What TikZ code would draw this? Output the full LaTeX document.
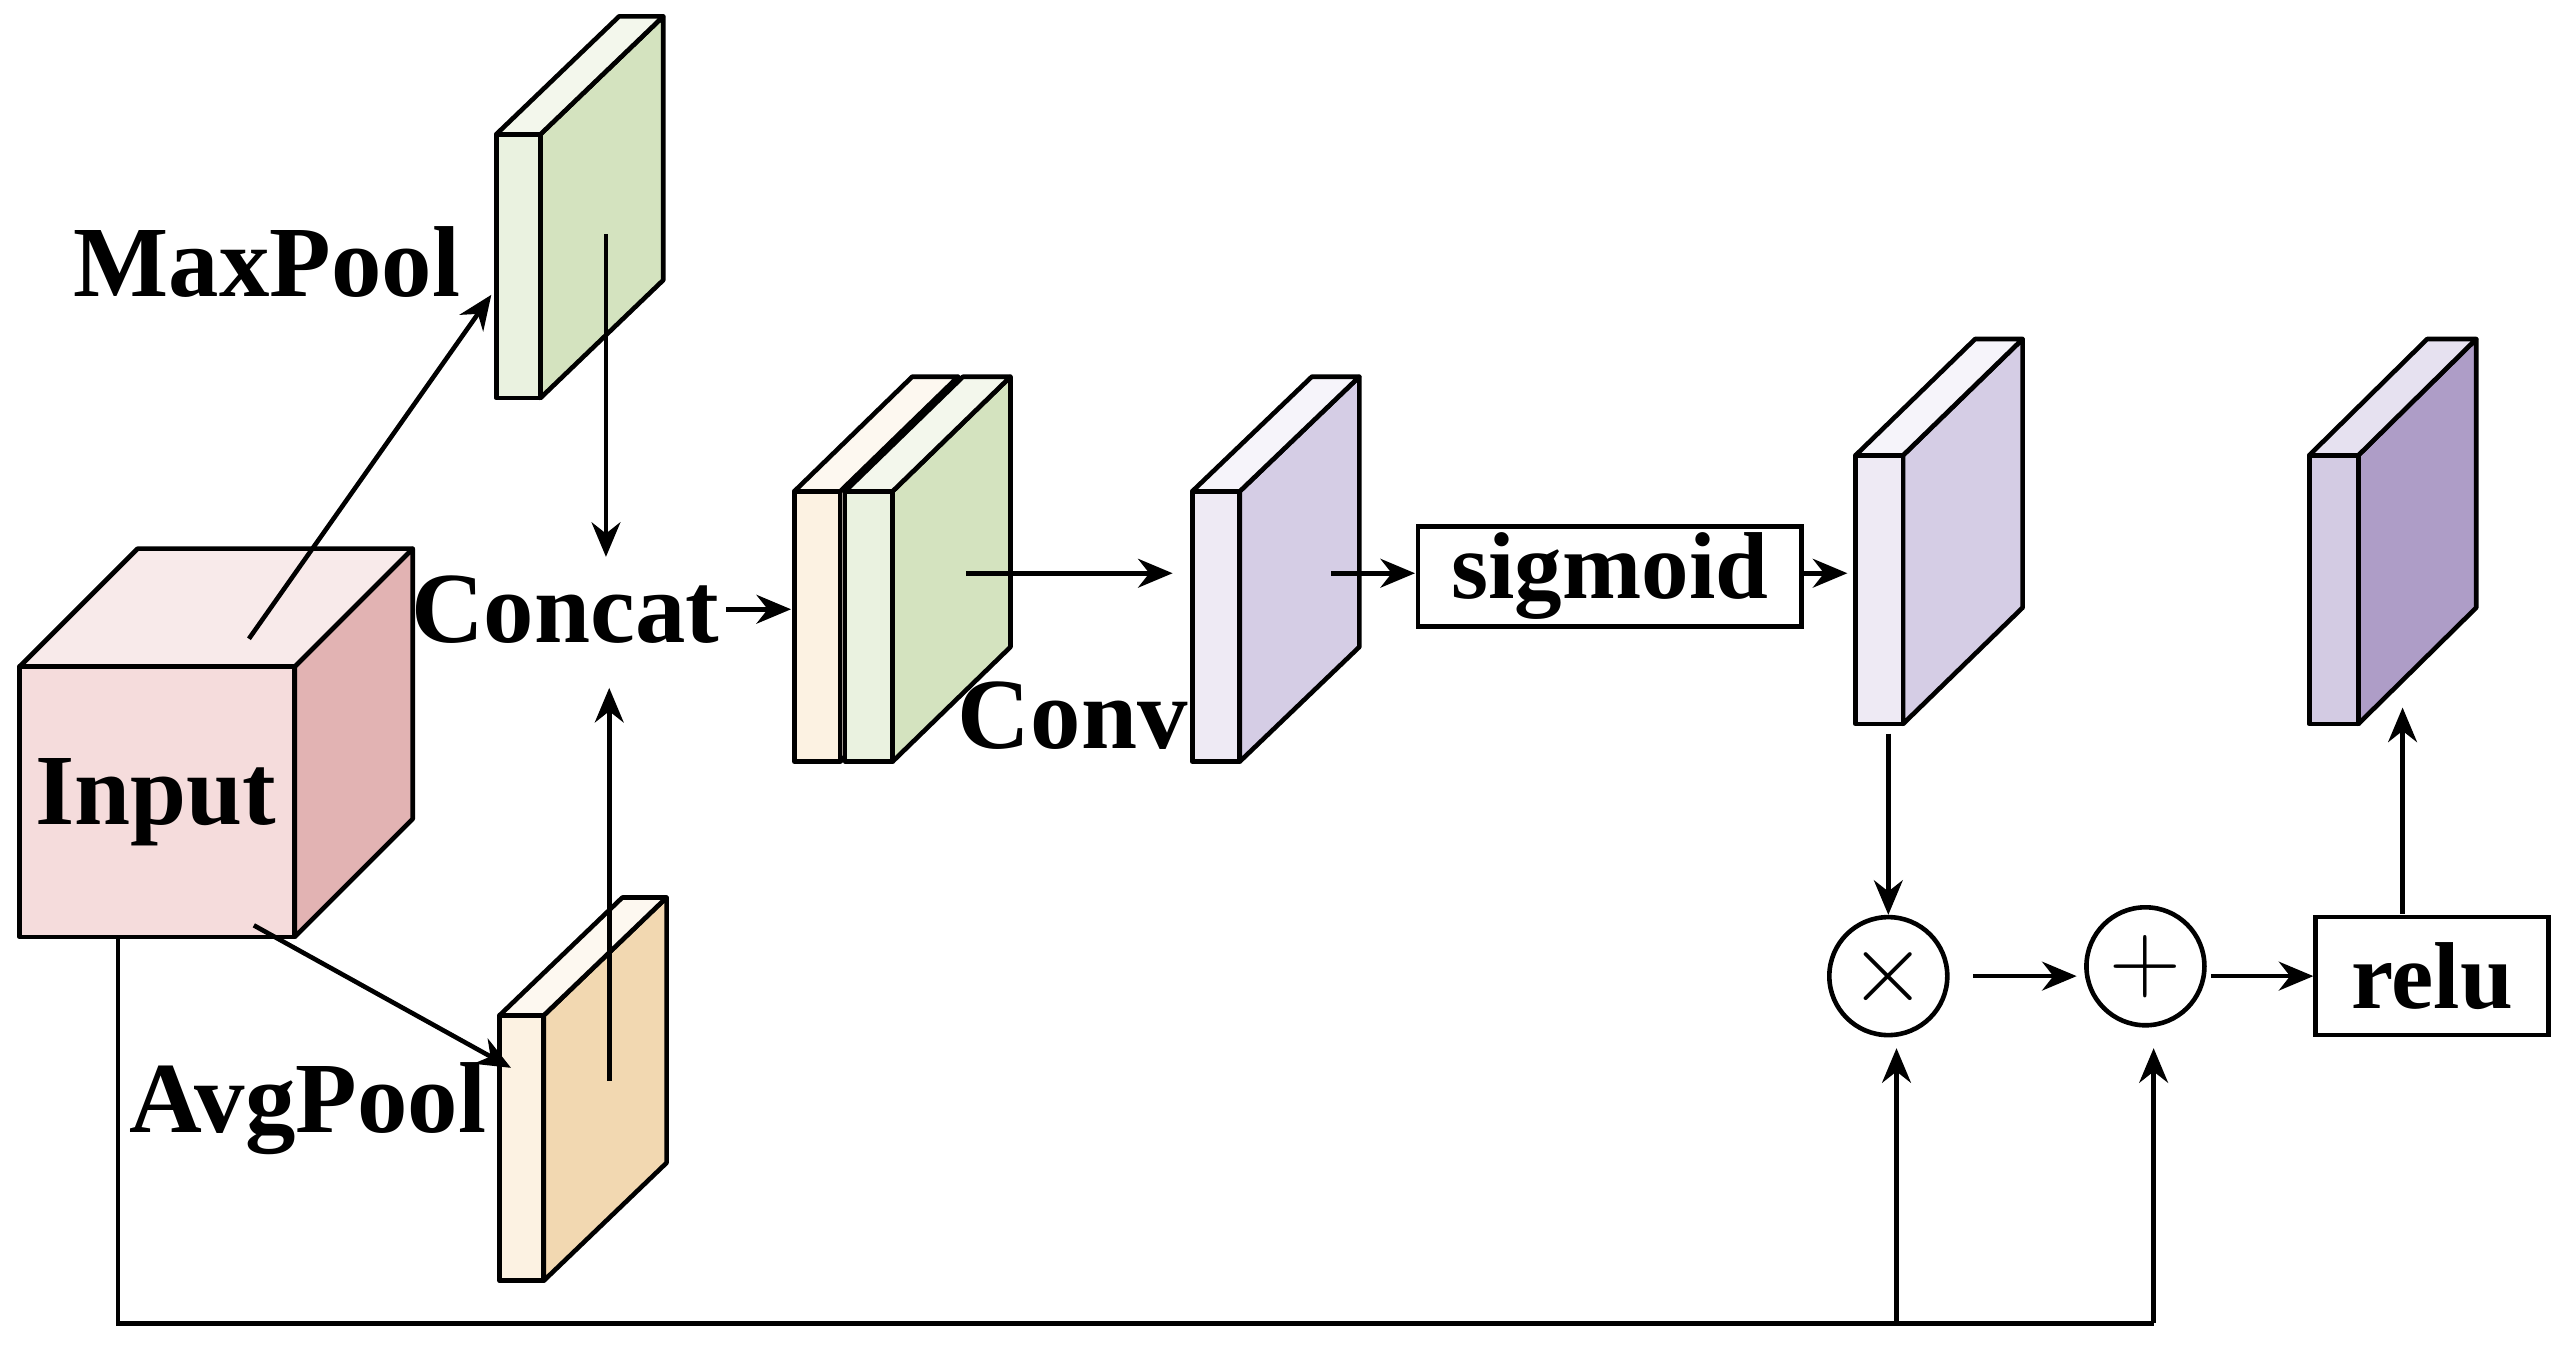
\documentclass[tikz,border=0pt]{standalone}
\usepackage{fontspec}
\setmainfont{Liberation Serif}
\usetikzlibrary{arrows.meta,calc}
\definecolor{inF}{HTML}{F5DCDC}\definecolor{inS}{HTML}{E2B3B3}\definecolor{inT}{HTML}{F8EAEA}
\definecolor{gF}{HTML}{EAF2E0}\definecolor{gS}{HTML}{D4E3BF}\definecolor{gT}{HTML}{F3F7EC}
\definecolor{oF}{HTML}{FCF2E2}\definecolor{oS}{HTML}{F2D8B1}\definecolor{oT}{HTML}{FDF8F0}
\definecolor{pF}{HTML}{EEEAF4}\definecolor{pS}{HTML}{D5CDE5}\definecolor{pT}{HTML}{F6F4FA}
\definecolor{qF}{HTML}{D3CBE3}\definecolor{qS}{HTML}{AE9DC7}\definecolor{qT}{HTML}{E6E1F0}
\newcommand{\myslab}[9]{%
 \filldraw[fill=#8,thick,line join=round] (#2,#3)--(#2,#4)--(#2+#5,#4-#6)--(#2+#5,#3-#6)--cycle;
 \filldraw[fill=#9,thick,line join=round] (#1,#3)--(#2,#3)--(#2+#5,#3-#6)--(#1+#5,#3-#6)--cycle;
 \filldraw[fill=#7,thick,line join=round] (#1,#3) rectangle (#2,#4);}
\begin{document}
\begin{tikzpicture}[x=0.01cm,y=-0.01cm,
 lab/.style={font=\fontsize{17.5}{20}\selectfont\bfseries,inner sep=1pt},
 box/.style={draw,thick,font=\fontsize{16.5}{19}\selectfont\bfseries,inner sep=0pt},
 circ/.style={draw,thick,circle,minimum size=0.72cm,inner sep=0pt,font=\fontsize{16}{18}\selectfont},
 arr/.style={thick,-{Stealth[length=6pt,width=5pt]}}]
\useasboundingbox (0,0) rectangle (1568,826);
\myslab{12}{180}{407}{572}{72}{72}{inF}{inS}{inT}
\node[lab] (in) at (95,490) {Input};
\myslab{303}{330}{82}{243}{75}{72}{gF}{gS}{gT}
\node[lab] (mp) at (163,160) {MaxPool};
\myslab{305}{332}{620}{782}{75}{72}{oF}{oS}{oT}
\node[lab] (ap) at (188,677) {AvgPool};
\myslab{485}{513}{300}{465}{72}{70}{oF}{oF}{oT}
\myslab{516}{545}{300}{465}{72}{70}{gF}{gS}{gT}
\node[lab] (cc) at (345,372) {Concat};
\myslab{728}{757}{300}{465}{73}{70}{pF}{pS}{pT}
\node[lab] (cv) at (655,437) {Conv};
\myslab{1133}{1162}{278}{442}{73}{71}{pF}{pS}{pT}
\myslab{1410}{1440}{278}{442}{72}{71}{qF}{qS}{qT}
\node[box,minimum width=2.34cm,minimum height=0.61cm] (sg) at (983,352) {sigmoid};
\node[box,minimum width=1.42cm,minimum height=0.72cm] (rl) at (1485,596) {relu};
\node[circ] (mul) at (1153,596) {$\times$};
\node[circ] (add) at (1310,590) {$+$};
\coordinate (a1) at (152,390); \coordinate (a2) at (300,180);
\coordinate (b1) at (155,565); \coordinate (b2) at (312,652);
\coordinate (m1) at (370,143); \coordinate (m2) at (370,340);
\coordinate (v1) at (372,660); \coordinate (v2) at (372,420);
\coordinate (c2) at (483,372);
\coordinate (k1) at (590,350); \coordinate (k2) at (716,350);
\coordinate (s1) at (813,350); \coordinate (s2) at (864,350);
\coordinate (o2) at (1128,350);
\coordinate (d1) at (1153,448);
\coordinate (r1) at (1467,558); \coordinate (r2) at (1467,432);
\coordinate (i0) at (72,572); \coordinate (i1) at (72,808);
\coordinate (j1) at (1158,808); \coordinate (j2) at (1315,808);
\coordinate (x1) at (1205,596); \coordinate (x2) at (1268,596);
\coordinate (y1) at (1350,596);
\coordinate (u1) at (1158,640); \coordinate (u2) at (1315,640);
\draw[arr] (a1)--(a2);
\draw[arr] (b1)--(b2);
\draw[arr] (m1)--(m2);
\draw[arr] (v1)--(v2);
\draw[arr] (cc.east)--(c2);
\draw[arr] (k1)--(k2);
\draw[arr] (s1)--(s2);
\draw[arr] (sg.east|-o2)--(o2);
\draw[arr] (d1)--(mul.north);
\draw[arr] (x1)--(x2);
\draw[arr] (y1)--(rl.west);
\draw[arr] (r1)--(r2);
\draw[thick] (i0)--(i1)--(j2);
\draw[arr] (j1)--(u1);
\draw[arr] (j2)--(u2);
\end{tikzpicture}
\end{document}
